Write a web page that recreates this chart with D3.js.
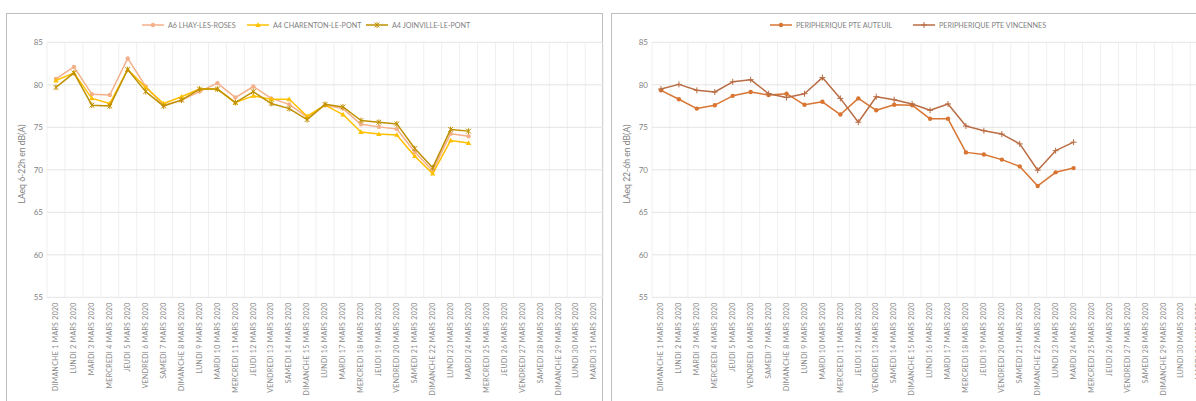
<!DOCTYPE html>
<html><head><meta charset="utf-8">
<script src="https://cdn.jsdelivr.net/npm/d3@7"></script>
<style>
html,body{margin:0;padding:0;background:#fff;}
svg{display:block;}
text{font-family:Lato, "Open Sans", sans-serif;}
</style></head>
<body>
<svg id="c" width="1196" height="401"></svg>
<script>
const categories = ["DIMANCHE 1 MARS 2020","LUNDI 2 MARS 2020","MARDI 3 MARS 2020","MERCREDI 4 MARS 2020","JEUDI 5 MARS 2020","VENDREDI 6 MARS 2020","SAMEDI 7 MARS 2020","DIMANCHE 8 MARS 2020","LUNDI 9 MARS 2020","MARDI 10 MARS 2020","MERCREDI 11 MARS 2020","JEUDI 12 MARS 2020","VENDREDI 13 MARS 2020","SAMEDI 14 MARS 2020","DIMANCHE 15 MARS 2020","LUNDI 16 MARS 2020","MARDI 17 MARS 2020","MERCREDI 18 MARS 2020","JEUDI 19 MARS 2020","VENDREDI 20 MARS 2020","SAMEDI 21 MARS 2020","DIMANCHE 22 MARS 2020","LUNDI 23 MARS 2020","MARDI 24 MARS 2020","MERCREDI 25 MARS 2020","JEUDI 26 MARS 2020","VENDREDI 27 MARS 2020","SAMEDI 28 MARS 2020","DIMANCHE 29 MARS 2020","LUNDI 30 MARS 2020","MARDI 31 MARS 2020"];
const yTicks = [55,60,65,70,75,80,85];

const a6Lhay      = [80.7,82.1,78.9,78.8,83.1,79.8,77.6,78.2,79.2,80.2,78.5,79.8,78.4,77.7,76.2,77.6,77.2,75.35,75.05,74.8,72.1,69.9,74.25,73.95];
const a4Charenton = [80.5,81.4,78.4,77.8,81.8,79.7,77.8,78.6,79.5,79.5,77.9,78.7,78.3,78.3,76.3,77.6,76.5,74.45,74.2,74.1,71.6,69.55,73.45,73.15];
const a4Joinville = [79.7,81.4,77.6,77.5,81.8,79.2,77.5,78.2,79.5,79.5,77.9,79.2,77.8,77.2,75.9,77.7,77.4,75.8,75.6,75.4,72.5,70.25,74.75,74.55];

const periAuteuil   = [79.35,78.3,77.2,77.6,78.7,79.15,78.8,78.95,77.65,78.0,76.5,78.4,77.0,77.65,77.6,76.0,76.0,72.05,71.8,71.2,70.4,68.1,69.7,70.2];
const periVincennes = [79.5,80.05,79.35,79.15,80.35,80.6,78.95,78.5,78.95,80.85,78.4,75.6,78.6,78.25,77.75,77.0,77.75,75.15,74.6,74.2,73.05,69.95,72.25,73.25];

const leftSeries = [
  {name:"A6 LHAY-LES-ROSES", values:a6Lhay, color:"#f4b08a", marker:"circle"},
  {name:"A4 CHARENTON-LE-PONT", values:a4Charenton, color:"#ffc000", marker:"triangle"},
  {name:"A4 JOINVILLE-LE-PONT", values:a4Joinville, color:"#bf9000", marker:"star"}
];
const rightSeries = [
  {name:"PERIPHERIQUE PTE AUTEUIL", values:periAuteuil, color:"#d87532", marker:"circle"},
  {name:"PERIPHERIQUE PTE VINCENNES", values:periVincennes, color:"#b96d44", marker:"plus"}
];

const svg = d3.select("#c");

function drawMarker(g, type, x, y, color){
  if(type==="circle"){
    g.append("circle").attr("cx",x).attr("cy",y).attr("r",2.2).attr("fill",color);
  } else if(type==="triangle"){
    g.append("path").attr("d",`M${x},${y-2.7}L${x+2.7},${y+1.9}L${x-2.7},${y+1.9}Z`).attr("fill",color);
  } else if(type==="star"){
    g.append("path").attr("d",`M${x-2.4},${y-2.4}L${x+2.4},${y+2.4}M${x-2.4},${y+2.4}L${x+2.4},${y-2.4}M${x},${y-2.9}L${x},${y+2.9}`)
      .attr("stroke",color).attr("stroke-width",1).attr("fill","none");
  } else if(type==="plus"){
    g.append("path").attr("d",`M${x-3},${y}L${x+3},${y}M${x},${y-3}L${x},${y+3}`)
      .attr("stroke",color).attr("stroke-width",1).attr("fill","none");
  }
}

function drawChart(opt){
  const g = svg.append("g");
  g.append("rect").attr("x",opt.frameX+0.5).attr("y",13.5).attr("width",opt.frameW).attr("height",420)
    .attr("fill","none").attr("stroke","#bfbfbf").attr("stroke-width",1);

  const x = d3.scaleBand().domain(categories).range([opt.left, opt.left+31*17.94]).padding(0);
  const y = d3.scaleLinear().domain([55,85]).range([297.3,42.3]);

  const bounds = categories.map(c=>x(c)).concat([x(categories[30])+x.bandwidth()]);
  g.append("g").selectAll("line").data(bounds).join("line")
    .attr("x1",d=>d).attr("x2",d=>d).attr("y1",y(85)).attr("y2",y(55))
    .attr("stroke","#f0f0f0").attr("stroke-width",1);
  g.append("g").selectAll("line").data(yTicks).join("line")
    .attr("x1",opt.left).attr("x2",opt.left+31*17.94).attr("y1",d=>y(d)).attr("y2",d=>y(d))
    .attr("stroke","#e4e4e4").attr("stroke-width",1);

  const ya = g.append("g").attr("transform",`translate(${opt.left-4},0)`)
    .call(d3.axisLeft(y).tickValues(yTicks).tickSize(0).tickPadding(0));
  ya.select(".domain").remove();
  ya.selectAll("text").attr("fill","#7f7f7f").style("font-size","8px").style("font-family","Lato, sans-serif");

  const xa = g.append("g").attr("transform",`translate(0,${y(55)})`)
    .call(d3.axisBottom(x).tickSize(0).tickPadding(0));
  xa.select(".domain").remove();
  xa.selectAll("text")
    .attr("transform","rotate(-90)")
    .attr("x",-5).attr("y",0).attr("dy","0.32em")
    .style("text-anchor","end")
    .attr("fill","#8a8a8a").style("font-size","6.9px").style("letter-spacing","0.35px")
    .style("font-family","Lato, sans-serif");

  g.append("text").attr("transform",`translate(${opt.titleX},164) rotate(-90)`)
    .attr("text-anchor","middle").attr("fill","#7f7f7f").style("font-size","8.6px").text(opt.title);

  const line = d3.line().x((d,i)=>x(categories[i])+x.bandwidth()/2).y(d=>y(d));
  opt.series.forEach(s=>{
    g.append("path").datum(s.values).attr("d",line).attr("fill","none")
      .attr("stroke",s.color).attr("stroke-width",1.5).attr("stroke-linejoin","round");
    const mg = g.append("g");
    s.values.forEach((v,i)=>drawMarker(mg,s.marker,x(categories[i])+x.bandwidth()/2,y(v),s.color));
  });

  const lg = g.append("g");
  opt.series.forEach((s,i)=>{
    const lx = opt.legendX[i];
    lg.append("line").attr("x1",lx).attr("x2",lx+22).attr("y1",25).attr("y2",25)
      .attr("stroke",s.color).attr("stroke-width",1.5);
    drawMarker(lg,s.marker,lx+11,25,s.color);
    lg.append("text").attr("x",lx+26).attr("y",25).attr("dy","0.35em")
      .attr("fill","#7f7f7f").style("font-size","7.2px").text(s.name);
  });
}

drawChart({frameX:6, frameW:596, left:47, title:"LAeq 6-22h en dB(A)", titleX:25,
  series:leftSeries, legendX:[142,247,366]});
drawChart({frameX:611, frameW:700, left:652, title:"LAeq 22-6h en dB(A)", titleX:630,
  series:rightSeries, legendX:[770,913]});
</script>
</body></html>
